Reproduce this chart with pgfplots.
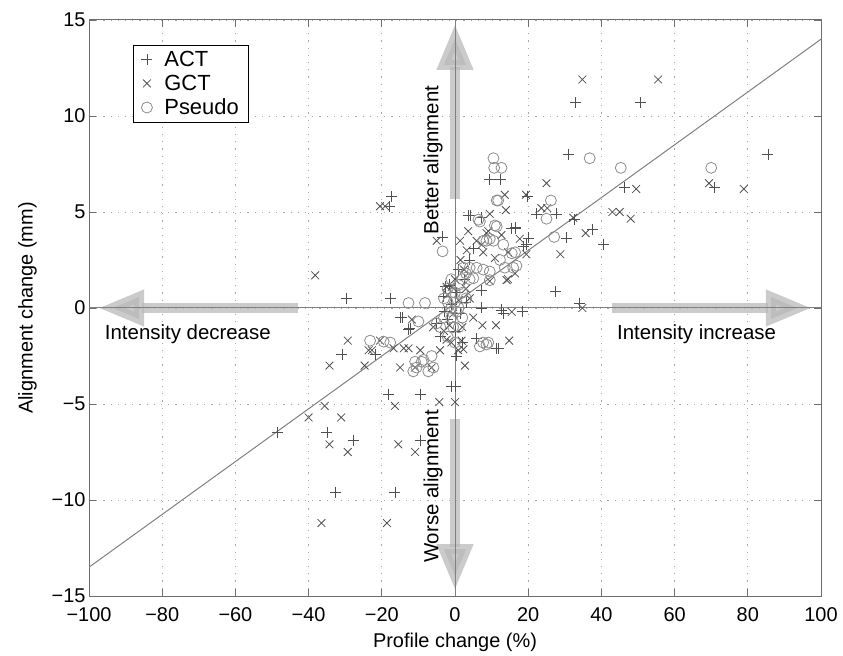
\documentclass[border=0pt]{standalone}
\usepackage{pgfplots}
\pgfplotsset{compat=1.18}
\usepackage{fontspec}
\setmainfont{Liberation Sans}
\usetikzlibrary{arrows.meta}

\definecolor{markdark}{HTML}{505050}
\definecolor{marklight}{HTML}{8C8C8C}
\definecolor{boxgray}{HTML}{6E6E6E}

\begin{document}
\begin{tikzpicture}
  \begin{axis}[
    scale only axis,
    width=732bp, height=576bp,
    xmin=-100, xmax=100, ymin=-15, ymax=15,
    xtick={-100,-80,...,100},
    ytick={-15,-10,...,15},
    xticklabels={−100,−80,−60,−40,−20,0,20,40,60,80,100},
    yticklabels={−15,−10,−5,0,5,10,15},
    tick align=inside,
    major tick length=7bp,
    tick style={boxgray, line width=0.8bp},
    axis line style={boxgray, line width=1bp},
    grid=major,
    major grid style={gray!70, line width=0.9bp, dash pattern=on 1.2bp off 6bp},
    tick label style={font=\fontsize{20}{22}\selectfont},
    xticklabel style={yshift=-8bp},
    xlabel={Profile change (\%)},
    ylabel={Alignment change (mm)},
    label style={font=\fontsize{20}{22}\selectfont},
    xlabel style={yshift=-5bp},
    ylabel style={yshift=8bp},
    legend style={at={(0.06,0.957)}, anchor=north west, draw=black,
      line width=1bp, font=\fontsize{22}{25}\selectfont,
      inner xsep=8bp, inner ysep=4bp, row sep=3bp,
      /tikz/every odd column/.append style={column sep=10bp}},
    legend cell align=left,
  ]

  % direction arrows, drawn first so the data sit on top
  \draw[gray!55, line width=10bp, opacity=0.75,
        -{Triangle[length=46bp, width=34bp]}] (axis cs:-43,0) -- (axis cs:-97.5,0);
  \draw[gray!55, line width=10bp, opacity=0.75,
        -{Triangle[length=46bp, width=34bp]}] (axis cs:43,0) -- (axis cs:97.5,0);
  \draw[gray!55, line width=10bp, opacity=0.75,
        -{Triangle[length=46bp, width=34bp]}] (axis cs:0,5.7) -- (axis cs:0,14.8);
  \draw[gray!55, line width=10bp, opacity=0.75,
        -{Triangle[length=46bp, width=34bp]}] (axis cs:0,-5.8) -- (axis cs:0,-14.7);
  \draw[gray, line width=1bp] (axis cs:-100,0) -- (axis cs:100,0);
  \draw[gray, line width=1bp] (axis cs:0,-15) -- (axis cs:0,15);

  \addplot[only marks, mark=+, mark size=5.5bp, markdark, mark options={line width=0.8bp}] coordinates {
    (-29.7,0.5) (-17.7,0.5) (-17.3,5.8) (-18.0,5.3) (-3.4,3.7) (-2.7,1.1)
    (33,10.7) (50.7,10.7) (30.9,8.0) (85.5,8.0) (46.4,6.3) (70.9,6.3)
    (9.4,6.7) (12.5,6.7) (19.7,5.8) (22.3,4.9) (27.7,4.9) (4.1,4.8)
    (7.3,4.7) (32.7,4.6) (37.5,4.1) (30.5,3.65) (40.6,3.3) (27.5,0.87)
    (33.9,0.25) (16.4,4.2) (20,3.65) (19.4,3.3) (7.3,0.9) (7.3,0.0)
    (12.7,-0.1) (18.4,-0.2) (5.9,-1.6) (11.8,-2.1) (0,-4.1) (-0.9,-4.1)
    (-48.6,-6.5) (-35,-6.5) (-27.7,-6.9) (-32.7,-9.6) (-30.9,-2.4) (-21.8,-2.4)
    (-18.2,-4.5) (-16.4,-9.6) (-9.5,-6.9) (-9.5,-4.5) (-15,-0.5) (-12.7,-1.1)
    (3.6,4.8) (5,3.1) (15.5,4.15) (16.4,4.15) (18.6,3.2) (-3.2,0.6)
    (-14.5,-0.5) (-12.3,-1.05) (13.2,-0.3) (11.4,-2.1)
    (-1,0.2) (0.5,0.8) (1.5,-0.3) (-2,-0.6) (2.5,1.5) (0,-1.2) (-3,-0.2)
    (3,0.3) (1,2) (-4,-1.5) (-1.5,1.2) (2,-1.8) (-5,-0.8) (4,2.5) (0.5,-2.5)
  };
  \addlegendentry{ACT}

  \addplot[only marks, mark=x, mark size=5.5bp, markdark, mark options={line width=0.8bp}] coordinates {
    (-38.2,1.7) (-20.5,5.3) (-19.1,5.3) (-5,3.5) (34.8,11.9) (55.5,11.9)
    (49.5,6.2) (69.4,6.5) (78.9,6.2) (13.6,5.9) (19.4,5.9) (25,6.5)
    (23.6,5.2) (25.2,5.2) (13.9,5.1) (9.5,4.9) (32.3,4.7) (43,5.0)
    (45,5.0) (48,4.65) (35.7,3.9) (28.8,2.8) (34.8,0) (3.6,4.0)
    (1.4,3.5) (3.2,3.0) (17.7,3.6) (8.6,3.9) (12.7,3.8) (7.3,3.3)
    (7.7,2.9) (14.5,2.9) (19.5,2.8) (9.5,1.4) (14.5,1.5) (16.4,1.8)
    (15.5,-0.2) (7.5,-0.9) (11.2,-0.9) (14.8,-1.7) (1.8,-1.7) (2.7,-3.0)
    (0,-4.9) (-4.3,-4.9) (2.3,-2.15) (-40,-5.7) (-35.6,-5.1) (-31.1,-5.7)
    (-34.3,-7.1) (-29.3,-7.5) (-36.5,-11.2) (-34.3,-3.0) (-29.3,-1.7) (-24.7,-3.0)
    (-23.6,-2.2) (-22.7,-2.2) (-20.5,-1.7) (-16.4,-5.1) (-18.6,-11.2) (-15.5,-7.1)
    (-10.9,-7.5) (-15,-3.1) (-10.9,-3.1) (-6.4,-3.1) (-16.8,-2.1) (-14,-2.1)
    (-12.7,-2.1) (-11.8,-0.6) (-2.3,1.1) (-0.9,1.1) (5.9,3.5) (9.1,4.0)
    (10.9,2.6) (14.1,1.45) (0.9,-2.2) (-4.1,-2.2) (-2.3,-1.65) (-9.5,-2.2)
    (-0.5,-0.3) (1,0.4) (-2,0.7) (2,-1) (0,1.5) (3,1) (-3,-1.2) (-1,-1.8)
    (4,0.5) (1.5,2.5) (-6,-1.0) (5,-0.5) (-1.5,-0.9) (2.5,2.0)
  };
  \addlegendentry{GCT}

  \addplot[only marks, mark=o, mark size=5.5bp, marklight, mark options={line width=0.8bp}] coordinates {
    (-12.7,0.26) (-8.2,0.26) (-3.4,2.95) (36.8,7.8) (45.3,7.3) (70,7.3)
    (10.5,7.8) (10.7,7.3) (12.7,7.3) (11.8,5.6) (26.2,5.6) (25,4.65)
    (27.1,3.7) (6.8,4.5) (11.4,4.25) (8.6,3.5) (10.5,3.5) (13.2,3.3)
    (12.3,2.5) (16.4,2.9) (16.8,2.2) (2.3,2.1) (4.0,2.1) (5.9,2.1)
    (7.7,2.0) (9.5,1.9) (5,1.55) (9.5,1.45) (13.6,2.1) (15.9,2.1)
    (11.4,5.6) (6.4,4.6) (10.9,4.3) (7.7,3.5) (9.5,3.6) (15.5,2.85)
    (7.7,-1.8) (9.1,-1.8) (6.8,-2.0) (8.6,-1.9) (-23.2,-1.7) (-17.7,-1.8)
    (-19.5,-1.75) (-10.9,-2.8) (-9.1,-2.8) (-7.3,-3.3) (-11.4,-3.3) (-6.4,-2.5)
    (-8.6,-2.7) (-10.5,-3.1) (-5.9,-3.1) (-10,-0.7)
    (-3,0.5) (-2,1) (-1,-0.5) (0,0.3) (1,1.2) (2,0.8) (-4,-1) (3,1.8)
    (1,-1) (-1,1.5) (0.5,-0.2) (-2,-1.5) (2,-0.5) (4,1.5) (-5,-0.8) (0,0.8)
    (-1,0) (1,0) (-0.5,-1) (3,0.5) (-3,-0.5) (0,-1.8) (2,1.5) (-2,0.3)
  };
  \addlegendentry{Pseudo}

  % regression line
  \addplot[gray, line width=1bp, forget plot] coordinates {(-100,-13.5) (100,14)};

  \node[font=\fontsize{20.5}{22}\selectfont, rotate=90] at (axis cs:-6,7.7) {Better alignment};
  \node[font=\fontsize{20.5}{22}\selectfont, rotate=90] at (axis cs:-6,-9.3) {Worse alignment};
  \node[font=\fontsize{20.5}{22}\selectfont] at (axis cs:-73,-1.35) {Intensity decrease};
  \node[font=\fontsize{20.5}{22}\selectfont] at (axis cs:66,-1.35) {Intensity increase};
  \end{axis}
  \path ([xshift=-89bp,yshift=-60bp]current axis.south west)
        rectangle ([xshift=22bp,yshift=20bp]current axis.north east);
\end{tikzpicture}
\end{document}
